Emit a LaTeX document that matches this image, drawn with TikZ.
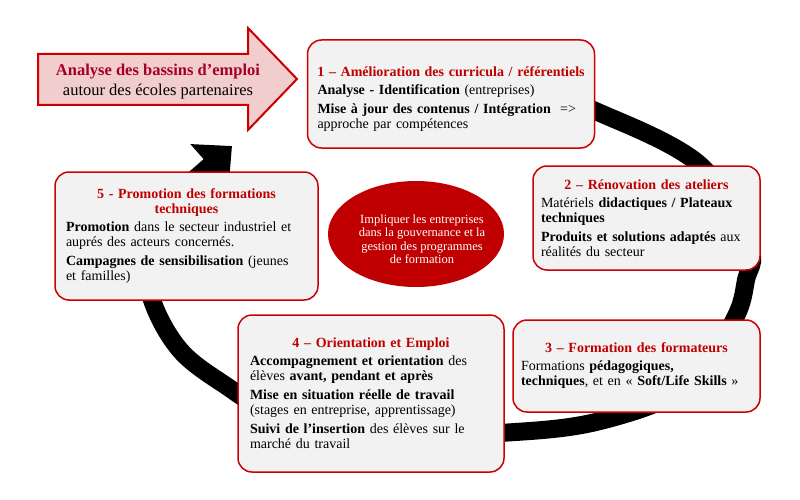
\documentclass[tikz,border=0pt]{standalone}
\usepackage{fontspec}
\setmainfont{Liberation Serif}
\usetikzlibrary{arrows.meta,shapes.geometric}

\definecolor{edgered}{HTML}{CC0000}
\definecolor{headred}{HTML}{C00000}
\definecolor{panegray}{HTML}{F2F2F2}
\definecolor{bannerpink}{HTML}{F2CDCD}
\definecolor{bannerred}{HTML}{A50021}

\newcommand\phasehead[1]{{\centering\color{headred}\bfseries #1\par}\vspace{3pt}}
\newcommand\phasegap{\par\vspace{4pt}}

\begin{document}
\begin{tikzpicture}[x=1pt, y=-1pt,
    phase/.style={draw=edgered, line width=1.5pt, fill=panegray, rounded corners=14pt, align=left, inner ysep=4pt, font=\fontsize{14}{15}\selectfont},
    aim/.style={ellipse, fill=headred, minimum width=176pt, minimum height=106pt, inner sep=0pt},
    aimtext/.style={align=center, text=white, font=\fontsize{12.5}{13.5}\selectfont},
    banner/.style={draw=edgered, line width=2pt, fill=bannerpink, line join=miter},
    bannertext/.style={align=center, font=\fontsize{16.5}{20}\selectfont},
    ringarrow/.style={line width=18pt, -{Triangle[length=30pt, width=56pt]}}
]
\useasboundingbox (0,0) rectangle (800,500);

% the black loop behind the phases
\draw[ringarrow] plot[smooth, tension=0.6] coordinates {(330,100) (460,93) (560,103) (600,113) (700,165) (749,245) (746,280) (734,320) (690,385) (600,421) (500,433) (370,436) (270,410) (225,385) (180,350) (152,300) (148,255) (162,215) (184,189) (206,169) (232,146)};

% entry arrow
\draw[banner] (38,54) -- (248,54) -- (248,28) -- (297,79) -- (248,130) -- (248,105) -- (38,105) -- cycle;
\node[bannertext] (basin) at (158,82) {{\color{bannerred}\bfseries Analyse des bassins d’emploi}\\autour des écoles partenaires};

% phases
\node[phase, text width=275pt, inner xsep=6pt, minimum height=108pt] (curricula) at (451,94) {\phasehead{\rule{0pt}{19pt}1 – Amélioration des curricula / référentiels}
\hspace*{4pt}\textbf{Analyse - Identification} (entreprises)\phasegap
\hspace*{4pt}\textbf{Mise à jour des contenus / Intégration}\ \ =>\\\hspace*{4pt}approche par compétences};

\node[phase, text width=211pt, inner xsep=8pt, minimum height=104pt] (workshops) at (646.5,218) {\phasehead{2 – Rénovation des ateliers}
Matériels \textbf{didactiques / Plateaux}\\\textbf{techniques}\phasegap
\textbf{Produits et solutions adaptés} aux\\réalités du secteur};

\node[phase, text width=231pt, inner xsep=8pt, minimum height=92pt] (trainers) at (636.5,366) {\phasehead{3 – Formation des formateurs}
Formations \textbf{pédagogiques,}\\\textbf{techniques}, et en « \textbf{Soft/Life Skills} »};

\node[phase, text width=242pt, inner xsep=12pt, minimum height=157pt] (guidance) at (371,393.5) {\phasehead{4 – Orientation et Emploi}
\textbf{Accompagnement et orientation} des\\élèves \textbf{avant, pendant et après}\phasegap
\textbf{Mise en situation réelle de travail}\\(stages en entreprise, apprentissage)\phasegap
\textbf{Suivi de l’insertion} des élèves sur le\\marché du travail};

\node[phase, text width=241pt, inner xsep=11pt, minimum height=128pt] (promotion) at (186.5,236) {\phasehead{5 - Promotion des formations\\techniques}
\textbf{Promotion} dans le secteur industriel et\\auprés des acteurs concernés.\phasegap
\textbf{Campagnes de sensibilisation} (jeunes\\et familles)};

% centre
\node[aim] (aim) at (416,234) {};
\node[aimtext] (aimlabel) at (422,239) {Impliquer les entreprises\\dans la gouvernance et la\\gestion des programmes\\de formation};
\end{tikzpicture}
\end{document}
